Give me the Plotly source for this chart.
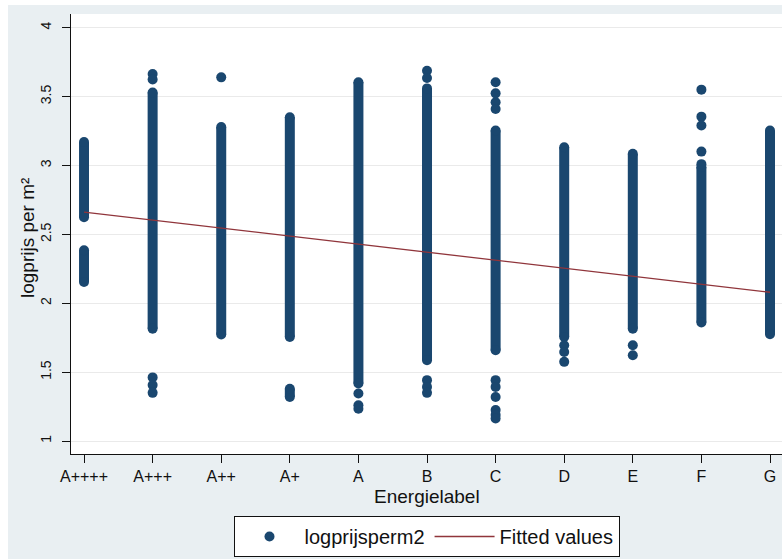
import plotly.graph_objects as go

# ---------------- data ----------------
categories = ["A++++", "A+++", "A++", "A+", "A", "B", "C", "D", "E", "F", "G"]

# dense stretches of overlapping observations: (category, lowest, highest)
dense_cat = ["A++++", "A++++", "A+++", "A++", "A+", "A+", "A", "B", "C", "D", "E", "F", "G"]
dense_low = [2.155, 2.625, 1.815, 1.773, 1.755, 1.32, 1.418, 1.587, 1.66, 1.756, 1.816, 1.86, 1.775]
dense_high = [2.385, 3.17, 3.53, 3.28, 3.35, 1.38, 3.604, 3.56, 3.254, 3.133, 3.085, 2.99, 3.254]

# separately visible observations
single_cat = ["A+++", "A+++", "A+++", "A+++", "A+++",
              "A++",
              "A", "A", "A",
              "B", "B", "B", "B", "B",
              "C", "C", "C", "C", "C", "C", "C", "C", "C", "C",
              "D", "D", "D",
              "E", "E",
              "F", "F", "F", "F", "F"]
single_val = [3.665, 3.625, 1.462, 1.406, 1.35,
              3.64,
              1.345, 1.26, 1.235,
              3.688, 3.635, 1.442, 1.393, 1.35,
              3.604, 3.524, 3.459, 3.41, 1.442, 1.393, 1.32, 1.225, 1.19, 1.164,
              1.696, 1.647, 1.575,
              1.696, 1.623,
              3.551, 3.355, 3.29, 3.101, 3.01]

# fitted regression line values per category
fitted = [2.662, 2.604, 2.546, 2.487, 2.429, 2.371, 2.313, 2.254, 2.196, 2.138, 2.080]

y_ticks = [1, 1.5, 2, 2.5, 3, 3.5, 4]
y_tick_text = ["1", "1.5", "2", "2.5", "3", "3.5", "4"]

# ---------------- styling ----------------
NAVY = "#1a476f"
MAROON = "#90353b"
BG = "#e9eff2"
FONT = "Liberation Sans, Arial, sans-serif"
MS = 10

W, H = 782, 559
ML, MR, MT, MB = 71, 0, 14, 105
PW, PH = W - ML - MR, H - MT - MB


def px_x(p):
    return (p - ML) / PW


def px_y(p):
    return (H - MB - p) / PH


# build dense stretches as thick segments
seg_x, seg_y = [], []
for c, lo, hi in zip(dense_cat, dense_low, dense_high):
    seg_x += [c, c, None]
    seg_y += [lo, hi, None]

pt_x = list(dense_cat) + list(dense_cat) + single_cat
pt_y = list(dense_low) + list(dense_high) + single_val

fig = go.Figure()
fig.add_trace(go.Scatter(
    x=seg_x, y=seg_y, mode="lines",
    line=dict(color=NAVY, width=MS),
    showlegend=False, hoverinfo="skip",
))
fig.add_trace(go.Scatter(
    x=pt_x, y=pt_y, mode="markers", name="logprijsperm2",
    marker=dict(color=NAVY, size=MS, line=dict(width=0)),
))
fig.add_trace(go.Scatter(
    x=categories, y=fitted, mode="lines", name="Fitted values",
    line=dict(color=MAROON, width=1.3),
))

fig.update_layout(
    width=W, height=H, autosize=False,
    margin=dict(l=ML, r=MR, t=MT, b=MB),
    paper_bgcolor=BG, plot_bgcolor="white",
    font=dict(family=FONT, color="#111111"),
    showlegend=True,
    legend=dict(
        orientation="h", x=0.5, xanchor="center",
        y=px_y(516), yanchor="top",
        bgcolor="white", bordercolor="#111111", borderwidth=1,
        font=dict(size=20, family=FONT),
        itemwidth=60,
    ),
    shapes=[
        dict(type="rect", xref="paper", yref="paper",
             x0=-0.2, x1=1.05, y0=px_y(5), y1=px_y(-5),
             fillcolor="white", line=dict(width=0), layer="below"),
        dict(type="rect", xref="paper", yref="paper",
             x0=px_x(-5), x1=px_x(8), y0=px_y(565), y1=px_y(-5),
             fillcolor="white", line=dict(width=0), layer="below"),
    ],
    annotations=[
        dict(text="logprijs per m²", xref="paper", yref="paper",
             x=px_x(28), y=px_y(238), textangle=-90, showarrow=False,
             xanchor="center", yanchor="middle",
             font=dict(size=19, family=FONT)),
        dict(text="Energielabel", xref="paper", yref="paper",
             x=0.5, y=px_y(496), showarrow=False,
             xanchor="center", yanchor="middle",
             font=dict(size=19, family=FONT)),
    ],
)

fig.update_xaxes(
    type="category", categoryorder="array", categoryarray=categories,
    range=[-0.19, 10.175],
    showline=True, linecolor="#111111", linewidth=1,
    ticks="outside", ticklen=8, tickcolor="#111111",
    showgrid=False, zeroline=False,
    tickfont=dict(size=16, family=FONT),
)
fig.update_yaxes(
    range=[0.906, 4.10],
    tickvals=y_ticks, ticktext=y_tick_text, tickangle=-90,
    showline=True, linecolor="#111111", linewidth=1,
    ticks="outside", ticklen=8, tickcolor="#111111",
    ticklabelstandoff=5,
    showgrid=True, gridcolor="#eaeaea", gridwidth=1, zeroline=False,
    tickfont=dict(size=14, family=FONT),
)

fig.write_html("out.html")
